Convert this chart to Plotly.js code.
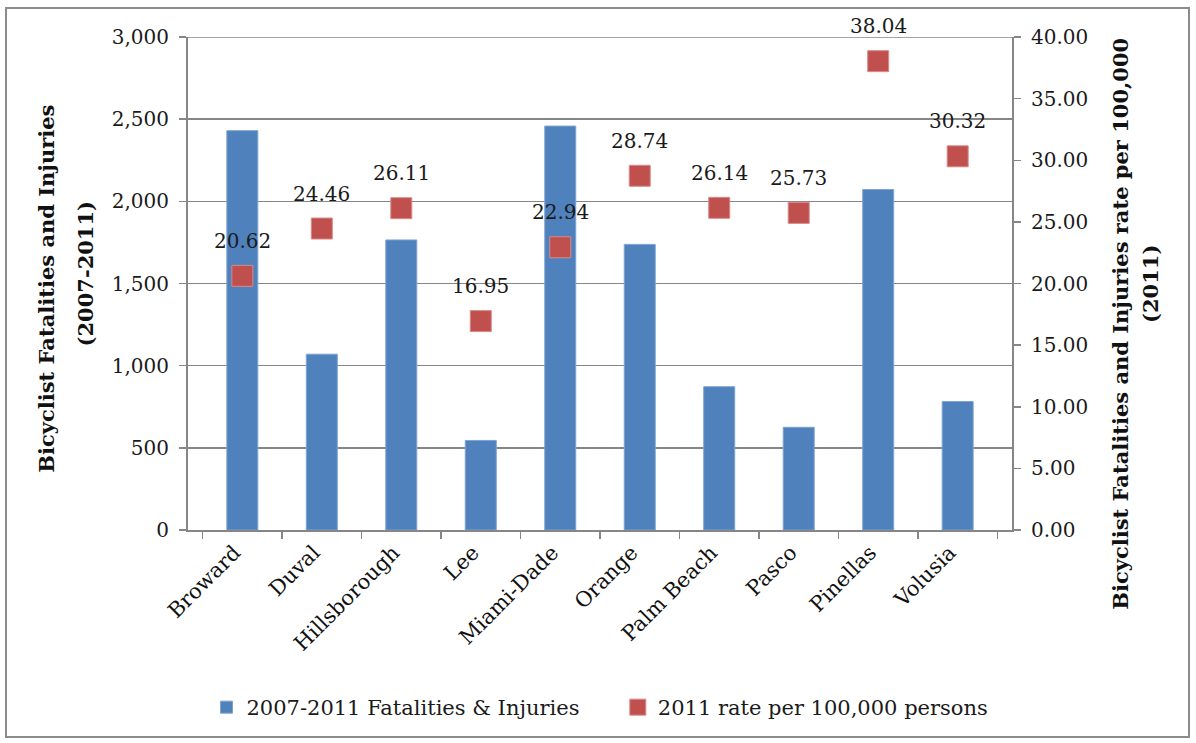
<!DOCTYPE html>
<html>
<head>
<meta charset="utf-8">
<script src="https://cdn.plot.ly/plotly-3.0.1.min.js"></script>
<style>
  html, body { margin: 0; padding: 0; background: #ffffff; }
  #frame { position: absolute; left: 5px; top: 7px; width: 1185px; height: 731px; border: 2px solid #8c8c8c; box-sizing: border-box; pointer-events: none; z-index: 5; }
  #chart { width: 1196px; height: 743px; }
</style>
</head>
<body>
<div id="frame"></div>
<div id="chart"></div>
<script>
const counties = ["Broward", "Duval", "Hillsborough", "Lee", "Miami-Dade", "Orange", "Palm Beach", "Pasco", "Pinellas", "Volusia"];
const fatalitiesInjuries = [2430, 1070, 1765, 545, 2458, 1738, 872, 625, 2072, 782];
const rates = [20.62, 24.46, 26.11, 16.95, 22.94, 28.74, 26.14, 25.73, 38.04, 30.32];
const leftTicks = [0, 500, 1000, 1500, 2000, 2500, 3000];
const leftTickLabels = ["0", "500", "1,000", "1,500", "2,000", "2,500", "3,000"];
const rightTicks = [0, 5, 10, 15, 20, 25, 30, 35, 40];
const rightTickLabels = ["0.00", "5.00", "10.00", "15.00", "20.00", "25.00", "30.00", "35.00", "40.00"];
const seriesNames = ["2007-2011 Fatalities &amp; Injuries", "2011 rate per 100,000 persons"];
const leftTitleLines = ["Bicyclist Fatalities and Injuries", "(2007-2011)"];
const rightTitleLines = ["Bicyclist Fatalities and Injuries rate per 100,000", "(2011)"];

const FONT = "'DejaVu Serif', 'Liberation Serif', serif";
const GRID = "#868686";
const TXT = "#1a1a1a";
const PAD = "&nbsp;&nbsp;&nbsp;&nbsp;&nbsp;";

const traces = [
  {
    type: "bar",
    name: seriesNames[0] + PAD,
    x: counties,
    y: fatalitiesInjuries,
    marker: { color: "#4F81BD", line: { color: "#7FA3D1", width: 1 } },
    yaxis: "y"
  },
  {
    type: "scatter",
    mode: "markers",
    name: seriesNames[1],
    x: counties,
    y: rates,
    yaxis: "y2",
    marker: { symbol: "square", size: 21, color: "#C0504D", line: { color: "#D88A88", width: 1 } }
  }
];

const annotations = counties.map((c, i) => ({
  x: c, y: rates[i], xref: "x", yref: "y2",
  text: rates[i].toFixed(2),
  showarrow: false, yshift: 35,
  font: { family: FONT, size: 20, color: TXT }
}));

// axis titles (two lines each, rotated)
const titleFont = { family: FONT, size: 21, color: "#111111" };
annotations.push(
  { xref: "paper", yref: "paper", x: -0.172, y: 0.49, text: "<b>" + leftTitleLines[0] + "</b>", textangle: -90, showarrow: false, font: titleFont, xanchor: "center", yanchor: "middle" },
  { xref: "paper", yref: "paper", x: -0.124, y: 0.52, text: "<b>" + leftTitleLines[1] + "</b>", textangle: -90, showarrow: false, font: titleFont, xanchor: "center", yanchor: "middle" },
  { xref: "paper", yref: "paper", x: 1.132, y: 0.418, text: "<b>" + rightTitleLines[0] + "</b>", textangle: -90, showarrow: false, font: titleFont, xanchor: "center", yanchor: "middle" },
  { xref: "paper", yref: "paper", x: 1.168, y: 0.50, text: "<b>" + rightTitleLines[1] + "</b>", textangle: -90, showarrow: false, font: titleFont, xanchor: "center", yanchor: "middle" }
);

const layout = {
  width: 1196, height: 743,
  margin: { l: 188, r: 184, t: 37, b: 213 },
  paper_bgcolor: "#ffffff", plot_bgcolor: "#ffffff",
  bargap: 0.61,
  showlegend: true,
  legend: {
    orientation: "h", x: 0.5, xanchor: "center", y: -0.36, yanchor: "middle",
    font: { family: FONT, size: 21, color: TXT },
    itemwidth: 30
  },
  font: { family: FONT, color: TXT },
  xaxis: {
    type: "category",
    tickangle: -45,
    tickfont: { family: FONT, size: 21, color: "#111111" },
    ticklabelshift: -8,
    showline: true, linecolor: GRID, linewidth: 2,
    ticks: "outside", tickson: "boundaries", ticklen: 7, tickcolor: GRID, tickwidth: 1.5,
    showgrid: false, zeroline: false
  },
  yaxis: {
    range: [0, 3000],
    tickvals: leftTicks, ticktext: leftTickLabels,
    tickfont: { family: FONT, size: 20, color: TXT },
    ticklabelstandoff: 6,
    showgrid: true, gridcolor: GRID, gridwidth: 1.5,
    showline: true, linecolor: GRID, linewidth: 2,
    ticks: "outside", ticklen: 7, tickcolor: GRID, tickwidth: 1.5,
    zeroline: false
  },
  yaxis2: {
    overlaying: "y", side: "right",
    range: [0, 40],
    tickvals: rightTicks, ticktext: rightTickLabels,
    tickfont: { family: FONT, size: 20, color: TXT },
    ticklabelstandoff: 6,
    showgrid: false,
    showline: true, linecolor: GRID, linewidth: 2,
    ticks: "outside", ticklen: 7, tickcolor: GRID, tickwidth: 1.5,
    zeroline: false
  },
  shapes: [
    { type: "line", xref: "paper", yref: "y", x0: 0, x1: 1, y0: leftTicks[leftTicks.length - 1], y1: leftTicks[leftTicks.length - 1], line: { color: GRID, width: 1.5 }, layer: "below" }
  ],
  annotations: annotations
};

Plotly.newPlot("chart", traces, layout, { displayModeBar: false, staticPlot: true });
</script>
</body>
</html>
